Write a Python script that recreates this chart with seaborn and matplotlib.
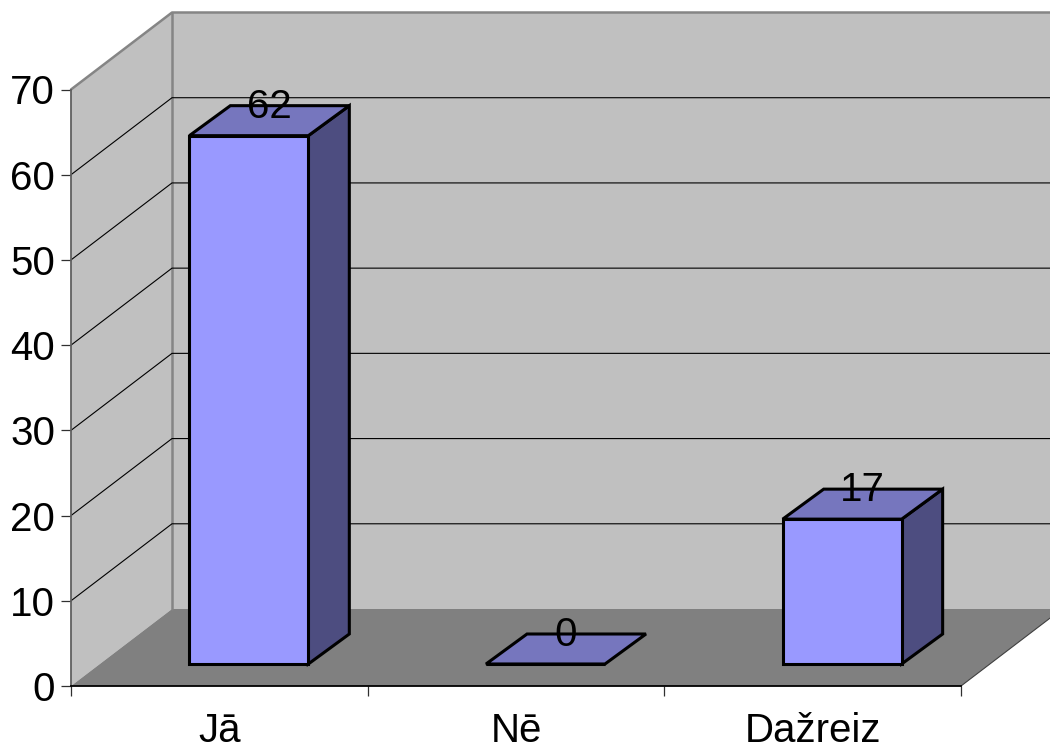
"""3D-look column chart (Jā / Nē / Dažreiz), faked on a flat seaborn barplot."""
import matplotlib
matplotlib.use("Agg")
import matplotlib.pyplot as plt
from matplotlib.patches import Polygon
from matplotlib.transforms import Affine2D
import pandas as pd
import seaborn as sns

categories = ["Jā", "Nē", "Dažreiz"]
counts = [62, 0, 17]
y_ticks = [0, 10, 20, 30, 40, 50, 60, 70]

WALL = "#C0C0C0"
FLOOR = "#808080"
FRONT = "#9999FF"
TOP = "#7676BE"
SIDE = "#4D4D80"
FONT_SIZE = 29

# pixel geometry of the projection
W, H = 1050, 747
X0, X1 = 71, 961       # front axis ends
Y0, Y70 = 686, 89.5    # pixel rows of value 0 and 70
WALL_DX, WALL_DY = 101, 77   # depth of the back wall
BAR_DX, BAR_DY = 29.5, 22    # where bars stand in the depth
CUBE_DX, CUBE_DY = 41, 30    # depth of a bar

sns.set_theme(style="white")
plt.rcParams["font.family"] = ["Liberation Sans", "DejaVu Sans"]

fig = plt.figure(figsize=(W / 100, H / 100), dpi=100)
ax = fig.add_axes([0, 0, 1, 1])
ax.patch.set_visible(False)

df = pd.DataFrame({"atbilde": categories, "skaits": counts})
sns.barplot(data=df, x="atbilde", y="skaits", order=categories, color=FRONT,
            saturation=1, width=0.401, edgecolor="black", linewidth=2.2, ax=ax)
bars = list(ax.containers[0])

x_unit = (X1 - X0) / len(categories)
y_unit = (Y0 - Y70) / 70
ax.set_xlim(-0.5 - X0 / x_unit, -0.5 + (W - X0) / x_unit)
ax.set_ylim(-(H - Y0) / y_unit, Y0 / y_unit)
xl, xr = -0.5, len(categories) - 0.5
wx, wy = WALL_DX / x_unit, WALL_DY / y_unit
ymax = y_ticks[-1]

# walls and floor
ax.add_patch(Polygon([(xl, 0), (xl + wx, wy), (xl + wx, ymax + wy), (xl, ymax)],
                     fc=WALL, ec="none", zorder=0))
ax.add_patch(Polygon([(xl + wx, wy), (xr + wx, wy), (xr + wx, ymax + wy), (xl + wx, ymax + wy)],
                     fc=WALL, ec="none", zorder=0))
ax.add_patch(Polygon([(xl, 0), (xr, 0), (xr + wx, wy), (xl + wx, wy)],
                     fc=FLOOR, ec="none", zorder=0.5))
ax.plot([xl, xl + wx, xr + wx], [ymax, ymax + wy, ymax + wy], color="#858585", lw=1.8, zorder=1)
ax.plot([xl + wx, xl + wx], [wy, ymax + wy], color="#858585", lw=1.8, zorder=1)
ax.plot([xr, xr + wx], [0, wy], color="#404040", lw=0.8, zorder=1)

# gridlines run along the side wall and then the back wall
for v in y_ticks[1:-1]:
    ax.plot([xl, xl + wx, xr + wx], [v, v + wy, v + wy], color="black", lw=0.8, zorder=1)

# bars: seaborn front face plus a side and a top face
move = ax.transData + Affine2D().translate(BAR_DX, BAR_DY)
cx, cy = CUBE_DX / x_unit, CUBE_DY / y_unit
for bar, n in zip(bars, counts):
    x, w, h = bar.get_x(), bar.get_width(), bar.get_height()
    bar.set_transform(move)
    bar.set_zorder(3)
    bar.set_joinstyle("miter")
    if h > 0:
        ax.add_patch(Polygon([(x + w, 0), (x + w + cx, cy), (x + w + cx, h + cy), (x + w, h)],
                             fc=SIDE, ec="black", lw=2.2, transform=move, zorder=2))
    ax.add_patch(Polygon([(x, h), (x + w, h), (x + w + cx, h + cy), (x + cx, h + cy)],
                         fc=TOP, ec="black", lw=2.2, transform=move, zorder=2))
    ax.text(x + w / 2 + cx / 2, h + cy / 2 - 0.6, str(n), ha="center", va="bottom",
            fontsize=FONT_SIZE, color="black", transform=move, zorder=4)

# axes sit on the front plane
for name in ("top", "right"):
    ax.spines[name].set_visible(False)
ax.spines["left"].set_position(("data", xl))
ax.spines["left"].set_bounds(0, ymax)
ax.spines["left"].set_color("#606060")
ax.spines["left"].set_linewidth(1.3)
ax.spines["bottom"].set_position(("data", 0))
ax.spines["bottom"].set_bounds(xl, xr)
ax.spines["bottom"].set_color("black")
ax.spines["bottom"].set_linewidth(1.3)
for s in ax.spines.values():
    s.set_zorder(1.5)

ax.set_xlabel("")
ax.set_ylabel("")
ax.set_yticks(y_ticks)
ax.set_xticks(range(len(categories)), categories)
ax.set_xticks([xl + i for i in range(len(categories) + 1)], minor=True)
ax.tick_params(axis="y", which="major", left=True, length=7, width=0.9, color="#303030",
               labelsize=FONT_SIZE, pad=4.5, labelcolor="black")
ax.tick_params(axis="x", which="major", bottom=False, length=0, labelsize=FONT_SIZE, pad=19,
               labelcolor="black")
ax.tick_params(axis="x", which="minor", bottom=True, length=7.5, width=0.9, color="#303030")

fig.savefig("out.png", dpi=100)
